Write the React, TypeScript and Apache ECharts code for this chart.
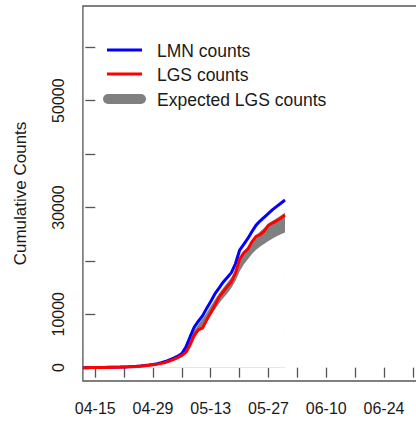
import React, { useEffect, useRef } from "react";
import * as echarts from "echarts";

// Days are counted relative to 04-15; the data starts on 04-12.
const FIRST_DAY = -3;

const lmnCounts = [
  0, 5, 10, 20, 30, 40, 55, 70, 90, 110, 140, 170, 210, 260, 330, 410, 500, 610, 760, 930,
  1150, 1480, 1800, 2150, 2650, 3900, 5800, 7600, 8700, 9700, 11100, 12400, 13800, 14900,
  16000, 16900, 17800, 19500, 22000, 23100, 24200, 25500, 26700, 27500, 28200, 28900, 29600,
  30200, 30800, 31400,
];

const lgsCounts = [
  0, 5, 10, 15, 25, 35, 45, 60, 75, 95, 120, 150, 190, 240, 300, 370, 450, 550, 660, 800,
  980, 1250, 1550, 1900, 2300, 2900, 4300, 6100, 7100, 7400, 8900, 10300, 11700, 13200,
  14200, 15200, 16100, 17700, 20300, 21500, 22200, 23600, 24600, 24900, 25600, 26700, 27100,
  27500, 28000, 28600,
];

const expectedLower = [
  0, 0, 5, 10, 20, 30, 40, 50, 65, 80, 100, 130, 160, 200, 250, 310, 380, 470, 570, 700,
  860, 1080, 1350, 1650, 2000, 2600, 3800, 5400, 6700, 7700, 8700, 9800, 10900, 12000,
  13000, 13900, 14900, 16300, 18000, 19300, 20300, 21300, 22100, 22700, 23200, 23700, 24200,
  24600, 25000, 25300,
];

const expectedUpper = [
  0, 5, 10, 20, 30, 40, 52, 68, 85, 105, 135, 165, 205, 255, 320, 400, 490, 600, 740, 900,
  1100, 1400, 1700, 2050, 2500, 3500, 5200, 6900, 8100, 9100, 10300, 11500, 12700, 13900,
  14900, 15900, 16900, 18400, 20500, 21700, 22700, 23800, 24800, 25500, 26200, 26900, 27500,
  28000, 28500, 29000,
];

const xTickDays = [0, 7, 14, 21, 28, 35, 42, 49, 56, 63, 70, 77];
const xLabelDays = [0, 14, 28, 42, 56, 70];
const xLabels = ["04-15", "04-29", "05-13", "05-27", "06-10", "06-24"];
const yTicks = [0, 10000, 20000, 30000, 40000, 50000, 60000];
const yLabels = [0, 10000, 30000, 50000];

const legendNames = ["LMN counts", "LGS counts", "Expected LGS counts"];

const FONT = "'Liberation Sans', Arial, Helvetica, sans-serif";
const TEXT = "#1a1a1a";
const AXIS = "#555555";

const pairs = (vals: number[]) => vals.map((v, i) => [FIRST_DAY + i, v]);

export default function App() {
  const ref = useRef<HTMLDivElement>(null);

  useEffect(() => {
    if (!ref.current) return;
    const chart = echarts.init(ref.current, undefined, { renderer: "svg" });

    chart.setOption({
      animation: false,
      backgroundColor: "#ffffff",
      grid: {
        left: 82.9,
        top: 6,
        right: 4.8,
        bottom: 40,
        show: true,
        borderColor: AXIS,
        borderWidth: 1.3,
        outerBoundsMode: "none",
      },
      xAxis: {
        type: "value",
        min: -3,
        max: 80,
        axisLine: { show: false },
        splitLine: { show: false },
        axisTick: {
          show: true,
          customValues: xTickDays,
          length: 10,
          lineStyle: { color: AXIS, width: 1.3 },
        },
        axisLabel: {
          customValues: xLabelDays,
          formatter: (v: number) => {
            const k = xLabelDays.indexOf(Math.round(v));
            return k >= 0 ? xLabels[k] : "";
          },
          fontSize: 16,
          fontFamily: FONT,
          color: TEXT,
          margin: 19,
        },
      },
      yAxis: {
        type: "value",
        min: -2497,
        max: 67729,
        axisLine: { show: false },
        splitLine: { show: false },
        axisTick: {
          show: true,
          customValues: yTicks,
          length: 10,
          lineStyle: { color: AXIS, width: 1.3 },
        },
        axisLabel: {
          customValues: yLabels,
          rotate: 90,
          formatter: (v: number) => String(Math.round(v)),
          fontSize: 16,
          fontFamily: FONT,
          color: TEXT,
          margin: 16,
        },
        name: "Cumulative Counts",
        nameLocation: "middle",
        nameRotate: 90,
        nameGap: 54,
        nameTextStyle: { fontSize: 17, fontFamily: FONT, color: TEXT },
      },
      series: [
        {
          name: legendNames[2],
          type: "line",
          data: pairs(expectedUpper),
          symbol: "none",
          lineStyle: { width: 0, opacity: 0 },
          areaStyle: { color: "#808080", opacity: 1, origin: 0 },
          silent: true,
          z: 1,
        },
        {
          type: "line",
          data: pairs(expectedLower),
          symbol: "none",
          lineStyle: { width: 0, opacity: 0 },
          areaStyle: { color: "#ffffff", opacity: 1, origin: 0 },
          silent: true,
          z: 1,
        },
        {
          name: legendNames[0],
          type: "line",
          data: pairs(lmnCounts),
          symbol: "none",
          lineStyle: { color: "#0000ff", width: 3 },
          z: 3,
        },
        {
          name: legendNames[1],
          type: "line",
          data: pairs(lgsCounts),
          symbol: "none",
          lineStyle: { color: "#ff0000", width: 3 },
          z: 4,
        },
      ],
      graphic: [
        {
          type: "line",
          shape: { x1: 107, y1: 50, x2: 142, y2: 50 },
          style: { stroke: "#0000ff", lineWidth: 3 },
        },
        {
          type: "line",
          shape: { x1: 107, y1: 74, x2: 142, y2: 74 },
          style: { stroke: "#ff0000", lineWidth: 3 },
        },
        {
          type: "line",
          shape: { x1: 108, y1: 99, x2: 141, y2: 99 },
          style: { stroke: "#808080", lineWidth: 10, lineCap: "round" },
        },
        ...legendNames.map((n, i) => ({
          type: "text",
          x: 157,
          y: [51, 75, 99.5][i],
          style: {
            text: n,
            font: `17.5px ${FONT}`,
            fill: TEXT,
            verticalAlign: "middle",
          },
        })),
      ],
    });

    return () => chart.dispose();
  }, []);

  return (
    <div
      ref={ref}
      style={{ position: "fixed", left: 0, top: 0, width: 430, height: 421 }}
    />
  );
}
